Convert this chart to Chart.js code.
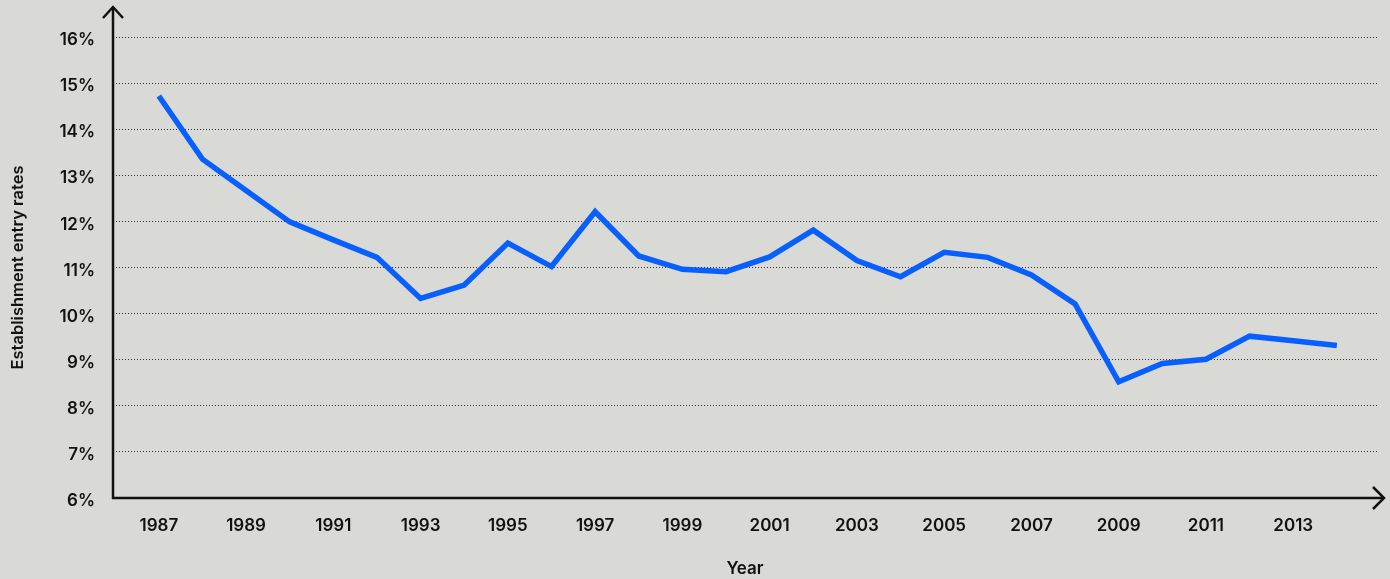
<!DOCTYPE html>
<html>
<head>
<meta charset="utf-8">
<script src="https://cdn.jsdelivr.net/npm/chart.js@4"></script>
<style>
  html, body { margin: 0; padding: 0; background: #d9d9d5; }
  #wrap { width: 1390px; height: 579px; }
</style>
</head>
<body>
<div id="wrap"><canvas id="entryChart"></canvas></div>
<script>
const years = [1987, 1988, 1989, 1990, 1991, 1992, 1993, 1994, 1995, 1996, 1997, 1998, 1999, 2000,
               2001, 2002, 2003, 2004, 2005, 2006, 2007, 2008, 2009, 2010, 2011, 2012, 2013, 2014];
const entryRates = [14.72, 13.35, 12.67, 11.99, 11.6, 11.22, 10.33, 10.62, 11.53, 11.02, 12.21, 11.25, 10.96, 10.91,
                    11.23, 11.81, 11.15, 10.8, 11.33, 11.22, 10.84, 10.21, 8.52, 8.92, 9.01, 9.51, 9.41, 9.31];
const xTickYears = [1987, 1989, 1991, 1993, 1995, 1997, 1999, 2001, 2003, 2005, 2007, 2009, 2011, 2013];
const yTicks = [6, 7, 8, 9, 10, 11, 12, 13, 14, 15, 16];

const FONT = 'Inter, "Noto Sans", sans-serif';

// axis lines with open arrow heads
const arrowAxes = {
    id: 'arrowAxes',
    afterDatasetsDraw(chart) {
        const { ctx, chartArea } = chart;
        const x0 = chartArea.left, y0 = chartArea.bottom;
        ctx.save();
        ctx.strokeStyle = '#111';
        ctx.lineWidth = 2.5;
        ctx.lineCap = 'butt';
        ctx.beginPath();
        ctx.moveTo(x0, y0 + 1);
        ctx.lineTo(x0, 7);
        ctx.moveTo(x0 - 1, y0);
        ctx.lineTo(1384, y0);
        ctx.stroke();
        ctx.lineJoin = 'miter';
        ctx.beginPath();
        ctx.moveTo(x0 - 10, 18);
        ctx.lineTo(x0, 7);
        ctx.lineTo(x0 + 10, 18);
        ctx.moveTo(1373, y0 - 11);
        ctx.lineTo(1384, y0);
        ctx.lineTo(1373, y0 + 11);
        ctx.stroke();
        ctx.restore();
    }
};

const ctx = document.getElementById('entryChart').getContext('2d');
new Chart(ctx, {
    type: 'line',
    data: {
        datasets: [{
            label: 'Establishment entry rates',
            data: years.map((y, i) => ({ x: y, y: entryRates[i] })),
            borderColor: '#075ffd',
            borderWidth: 5.5,
            pointRadius: 0,
            tension: 0,
            fill: false
        }]
    },
    options: {
        responsive: true,
        maintainAspectRatio: false,
        animation: false,
        layout: { padding: { top: 37, right: 13, left: 0, bottom: 0 } },
        plugins: {
            legend: { display: false },
            tooltip: { enabled: false }
        },
        scales: {
            x: {
                type: 'linear',
                min: 1985.95,
                max: 2014.92,
                afterBuildTicks: (scale) => { scale.ticks = xTickYears.map(v => ({ value: v })); },
                afterFit: (scale) => { scale.height = 81; },
                grid: { display: false },
                border: { display: false },
                ticks: {
                    color: '#111',
                    font: { family: FONT, size: 17, weight: '600' },
                    padding: 10,
                    maxRotation: 0,
                    callback: (v) => String(v)
                },
                title: {
                    display: true,
                    text: 'Year',
                    color: '#111',
                    font: { family: FONT, size: 17, weight: '600' },
                    padding: { top: 20, bottom: 0 }
                }
            },
            y: {
                min: 6,
                max: 16,
                afterBuildTicks: (scale) => { scale.ticks = yTicks.map(v => ({ value: v })); },
                afterFit: (scale) => { scale.width = 113; },
                border: { display: false, dash: [1, 2] },
                grid: {
                    color: '#333',
                    lineWidth: 1,
                    drawTicks: false
                },
                ticks: {
                    color: '#111',
                    font: { family: FONT, size: 17, weight: '600' },
                    padding: 18,
                    labelOffset: 3,
                    callback: (v) => v + '%'
                },
                title: {
                    display: true,
                    text: 'Establishment entry rates',
                    color: '#111',
                    font: { family: FONT, size: 16.5, weight: '600' },
                    padding: { top: 8, bottom: 0 }
                }
            }
        }
    },
    plugins: [arrowAxes]
});
</script>
</body>
</html>
